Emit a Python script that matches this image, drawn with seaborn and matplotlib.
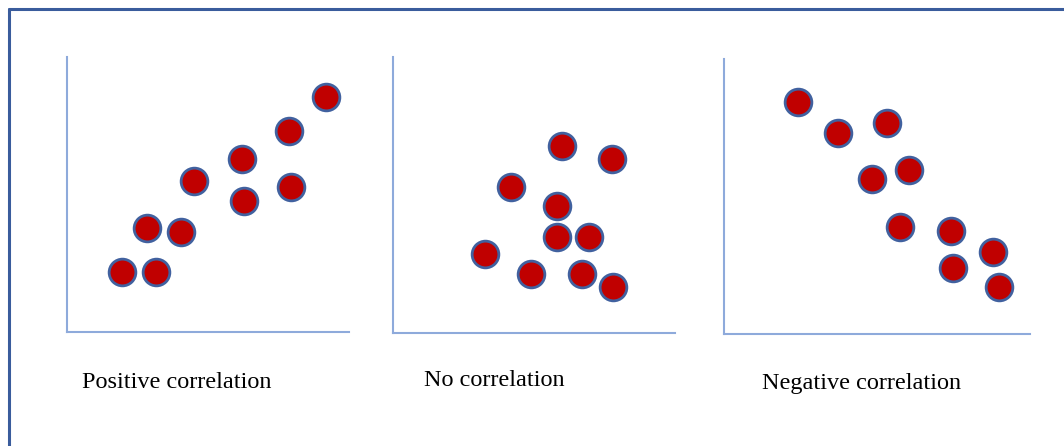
import matplotlib
matplotlib.use("Agg")
import matplotlib.pyplot as plt
import seaborn as sns
from matplotlib.lines import Line2D

# positive correlation
pos_x = [1.95, 3.14, 2.84, 4.06, 4.50, 6.22, 6.29, 7.89, 7.94, 9.18]
pos_y = [2.18, 2.18, 3.78, 3.64, 5.49, 6.29, 4.75, 7.31, 5.29, 8.56]
# no correlation
none_x = [5.98, 7.78, 4.18, 5.83, 5.80, 6.95, 3.26, 4.89, 6.69, 7.81]
none_y = [6.79, 6.30, 5.30, 4.61, 3.49, 3.49, 2.85, 2.14, 2.14, 1.66]
# negative correlation
neg_x = [2.41, 3.72, 5.32, 4.83, 6.06, 5.75, 7.42, 7.49, 8.78, 9.00]
neg_y = [8.43, 7.30, 7.66, 5.63, 5.96, 3.90, 3.75, 2.39, 2.99, 1.70]

labels = ["Positive correlation", "No correlation", "Negative correlation"]

W, H = 1064, 446
sns.set_style("white")
plt.rcParams["font.family"] = ["Liberation Serif", "DejaVu Serif"]

fig = plt.figure(figsize=(W / 100, H / 100), dpi=100)

# axes boxes in pixels: left, right, top, bottom
boxes = [(67, 349, 57, 332), (393, 675, 57, 333), (724, 1030, 59, 334)]
label_pos = [(82, 383), (424, 381), (762, 383)]
series = [(pos_x, pos_y), (none_x, none_y), (neg_x, neg_y)]

for (l, r, t, b), (xs, ys), lab, (lx, ly) in zip(boxes, series, labels, label_pos):
    ax = fig.add_axes([l / W, 1 - b / H, (r - l) / W, (b - t) / H])
    sns.scatterplot(x=xs, y=ys, ax=ax, s=370, color="#c00000",
                    edgecolor="#41619f", linewidth=2.0, zorder=3, clip_on=False)
    ax.set_xlim(0, 10)
    ax.set_ylim(0, 10)
    ax.set_xticks([])
    ax.set_yticks([])
    for side in ["top", "right"]:
        ax.spines[side].set_visible(False)
    for side in ["left", "bottom"]:
        ax.spines[side].set_color("#8eaadb")
        ax.spines[side].set_linewidth(1.5)
    ax.patch.set_alpha(0)
    fig.text(lx / W, 1 - ly / H, lab, fontsize=17.5, ha="left", va="center",
             color="black")

# outer frame (only top and left edges visible)
fig.add_artist(Line2D([9 / W, 1.0], [1 - 9 / H, 1 - 9 / H], color="#3a5c9c",
                      linewidth=2.2, transform=fig.transFigure))
fig.add_artist(Line2D([9 / W, 9 / W], [0, 1 - 9 / H], color="#3a5c9c",
                      linewidth=2.2, transform=fig.transFigure))

fig.savefig("out.png", dpi=100, facecolor="white")
